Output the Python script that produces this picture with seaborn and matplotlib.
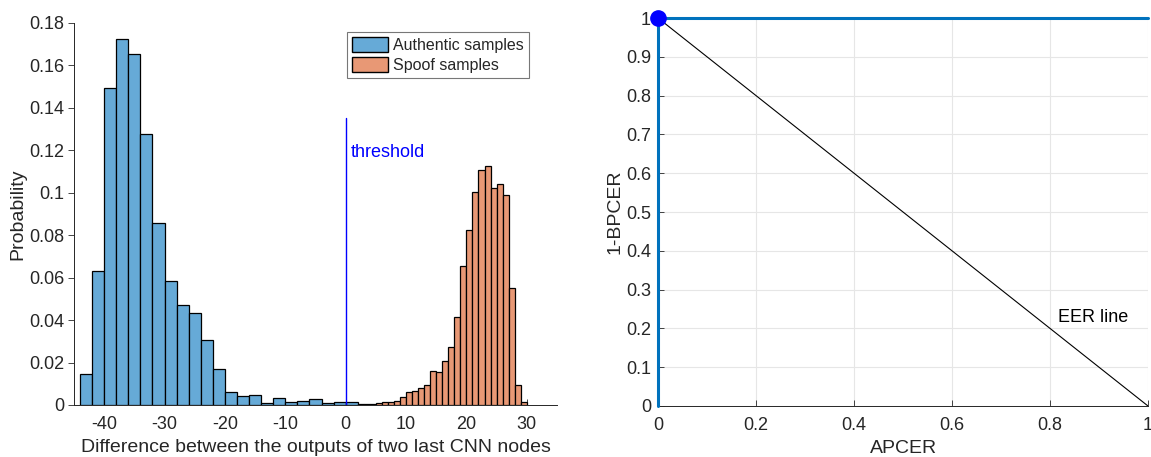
import matplotlib
matplotlib.use("Agg")
import matplotlib.pyplot as plt
from matplotlib.patches import Patch
import seaborn as sns
import numpy as np
import pandas as pd

# ==============================
# DATA
# ==============================
auth_edges = list(range(-44, 4, 2))  # bin width 2
auth_heights = [0.0146, 0.0630, 0.1493, 0.1724, 0.1655, 0.1279, 0.0856, 0.0584,
                0.0470, 0.0432, 0.0306, 0.0171, 0.0063, 0.0041, 0.0046, 0.0008,
                0.0031, 0.0013, 0.0017, 0.0027, 0.0008, 0.0013, 0.0012]

spoof_edges = list(range(2, 31, 1))  # bin width 1
spoof_heights = [0.0005, 0.0003, 0.0005, 0.0009, 0.0014, 0.0016, 0.0019, 0.0038,
                 0.0060, 0.0067, 0.0082, 0.0093, 0.0160, 0.0154, 0.0205, 0.0273,
                 0.0413, 0.0653, 0.0824, 0.1004, 0.1106, 0.1125, 0.1024, 0.1043,
                 0.0991, 0.0549, 0.0093, 0.0016]

threshold = 0
threshold_top = 0.135

apcer = [0, 0, 1]
one_minus_bpcer = [0, 1, 1]
eer_x = [0, 1]
eer_y = [1, 0]

x_ticks_left = [-40, -30, -20, -10, 0, 10, 20, 30]
y_ticks_left = [0, 0.02, 0.04, 0.06, 0.08, 0.1, 0.12, 0.14, 0.16, 0.18]
x_ticks_right = [0, 0.2, 0.4, 0.6, 0.8, 1]
y_ticks_right = [0, 0.1, 0.2, 0.3, 0.4, 0.5, 0.6, 0.7, 0.8, 0.9, 1]


def fmt(v):
    return "0" if v == 0 else ("%g" % v)


sns.set_style("white")
plt.rcParams["font.family"] = ["Liberation Sans", "DejaVu Sans"]

BLUE_FACE = "#66AAD7"
ORANGE_FACE = "#E89875"
TXT = "#262626"

fig = plt.figure(figsize=(11.51, 4.57), dpi=100)
ax1 = fig.add_axes([0.0643, 0.1138, 0.4196, 0.836])
ax2 = fig.add_axes([0.5717, 0.1116, 0.4257, 0.849])

# ==============================
# LEFT: HISTOGRAMS
# ==============================
auth_df = pd.DataFrame({
    "x": [(a + b) / 2 for a, b in zip(auth_edges[:-1], auth_edges[1:])],
    "w": auth_heights,
})
spoof_df = pd.DataFrame({
    "x": [(a + b) / 2 for a, b in zip(spoof_edges[:-1], spoof_edges[1:])],
    "w": spoof_heights,
})

sns.histplot(data=auth_df, x="x", weights="w", bins=auth_edges, ax=ax1,
             color=BLUE_FACE, alpha=1, edgecolor="black", linewidth=0.9,
             zorder=3)
sns.histplot(data=spoof_df, x="x", weights="w", bins=spoof_edges, ax=ax1,
             color=ORANGE_FACE, alpha=1, edgecolor="black", linewidth=0.9,
             zorder=3)

ax1.plot([threshold, threshold], [0, threshold_top], color="blue",
         linewidth=1, zorder=4)
ax1.text(threshold + 0.8, 0.119, "threshold", color="blue", fontsize=13,
         va="center", ha="left")

ax1.set_xlim(-45, 35)
ax1.set_ylim(0, 0.18)
ax1.set_xticks(x_ticks_left)
ax1.set_xticklabels([fmt(v) for v in x_ticks_left])
ax1.set_yticks(y_ticks_left)
ax1.set_yticklabels([fmt(v) for v in y_ticks_left])
ax1.set_xlabel("Difference between the outputs of two last CNN nodes",
               fontsize=14, color=TXT, labelpad=4)
ax1.set_ylabel("Probability", fontsize=14, color=TXT, labelpad=2)
ax1.tick_params(axis="x", labelsize=13, colors=TXT, length=4, width=0.6,
                direction="in", bottom=True, pad=8)
ax1.tick_params(axis="y", labelsize=13, colors=TXT, length=4, width=0.6,
                direction="out", left=True, pad=3)
for s in ["top", "right"]:
    ax1.spines[s].set_visible(False)
for s in ["left", "bottom"]:
    ax1.spines[s].set_color(TXT)
    ax1.spines[s].set_linewidth(0.7)
    ax1.spines[s].set_zorder(1)

handles = [Patch(facecolor=BLUE_FACE, edgecolor="black", linewidth=1),
           Patch(facecolor=ORANGE_FACE, edgecolor="black", linewidth=1)]
leg = ax1.legend(handles, ["Authentic samples", "Spoof samples"],
                 loc="upper left", bbox_to_anchor=(0.565, 0.975),
                 fontsize=11.5, frameon=True, fancybox=False,
                 handlelength=2.3, handleheight=1.05, handletextpad=0.3,
                 borderpad=0.3, labelspacing=0.25, borderaxespad=0)
leg.get_frame().set_edgecolor("#555555")
leg.get_frame().set_linewidth(0.8)

# ==============================
# RIGHT: ROC
# ==============================
ax2.grid(True, color="#E6E6E6", linewidth=0.8)
ax2.set_axisbelow(True)
sns.lineplot(x=eer_x, y=eer_y, ax=ax2, color="black", linewidth=0.8,
             sort=False, estimator=None)
sns.lineplot(x=apcer, y=one_minus_bpcer, ax=ax2, color="#0072BD",
             linewidth=2.2, sort=False, estimator=None, clip_on=False,
             zorder=4)
ax2.plot(apcer[1], one_minus_bpcer[1], "o", color="blue", markersize=11,
         clip_on=False, zorder=5)
ax2.text(0.816, 0.227, "EER line", fontsize=13, color="black", ha="left",
         va="center")

ax2.set_xlim(0, 1)
ax2.set_ylim(0, 1)
ax2.set_xticks(x_ticks_right)
ax2.set_xticklabels([fmt(v) for v in x_ticks_right])
ax2.set_yticks(y_ticks_right)
ax2.set_yticklabels([fmt(v) for v in y_ticks_right])
ax2.set_xlabel("APCER", fontsize=14, color=TXT, labelpad=4)
ax2.set_ylabel("1-BPCER", fontsize=14, color=TXT, labelpad=2)
ax2.tick_params(labelsize=13, colors=TXT, length=4, width=0.6,
                direction="in", bottom=True, left=True)
ax2.tick_params(axis="x", pad=8)
ax2.tick_params(axis="y", pad=5)
for s in ["top", "right"]:
    ax2.spines[s].set_visible(False)
for s in ["left", "bottom"]:
    ax2.spines[s].set_color(TXT)
    ax2.spines[s].set_linewidth(0.7)

plt.savefig("out.png", dpi=100)
plt.close()
